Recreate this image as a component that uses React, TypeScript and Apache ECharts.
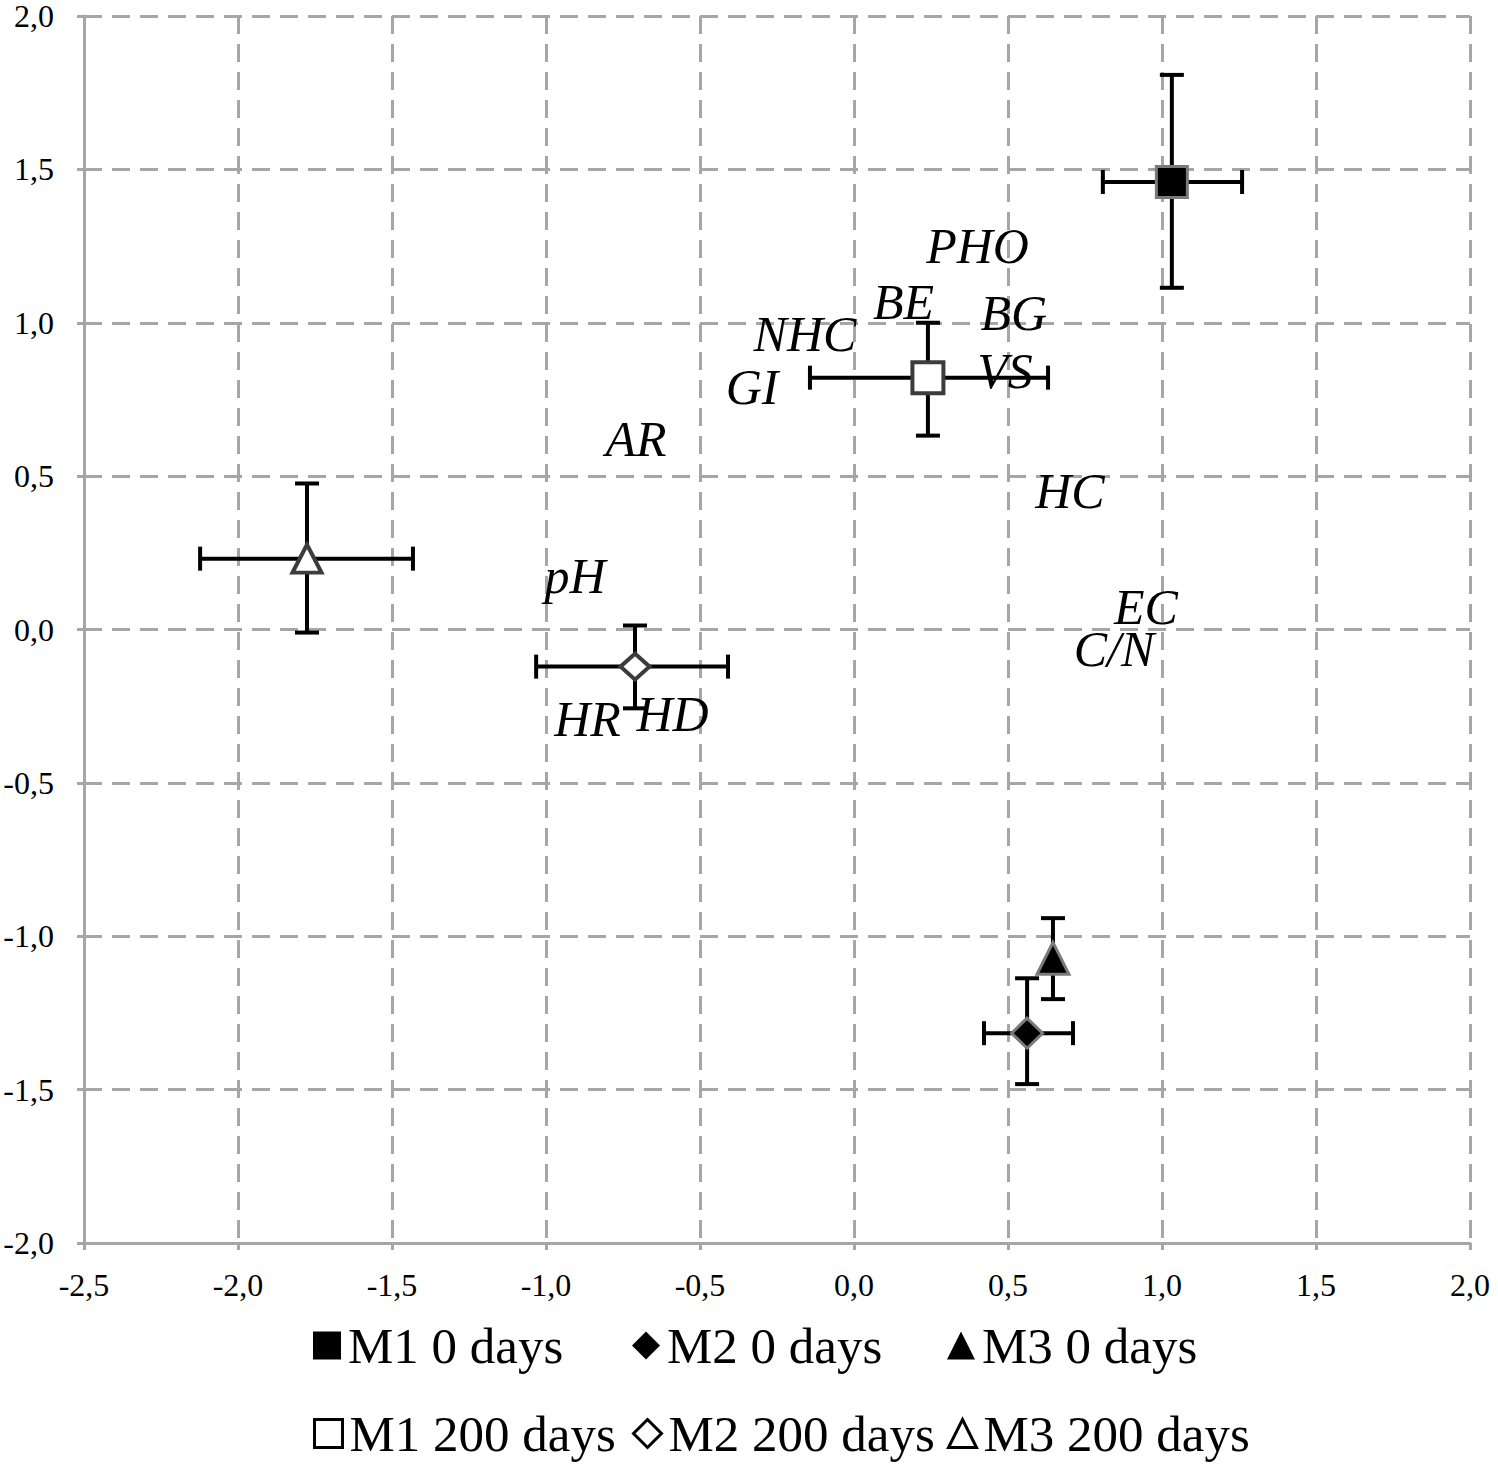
import React, { useEffect, useRef } from "react";
import * as echarts from "echarts";

// Treatment groups (scores with standard deviation)
const seriesNames = ["M1 0 days", "M2 0 days", "M3 0 days", "M1 200 days", "M2 200 days", "M3 200 days"];
const seriesSymbols = ["rect", "diamond", "triangle", "rect", "diamond", "triangle"];
const seriesFilled = [true, true, true, false, false, false];
const pointX = [1.032, 0.562, 0.646, 0.240, -0.711, -1.776];
const pointY = [1.459, -1.316, -1.072, 0.821, -0.121, 0.231];
const xErrLow = [0.808, 0.422, 0.646, -0.143, -1.032, -2.123];
const xErrHigh = [1.260, 0.711, 0.646, 0.630, -0.409, -1.432];
const yErrLow = [1.114, -1.482, -1.205, 0.632, -0.257, -0.010];
const yErrHigh = [1.808, -1.137, -0.941, 1.000, 0.013, 0.476];

// Variable labels (loadings)
const variableNames = ["PHO", "BE", "BG", "NHC", "GI", "VS", "AR", "HC", "pH", "EC", "C/N", "HR", "HD"];
const variableX = [0.401, 0.161, 0.519, -0.159, -0.331, 0.490, -0.708, 0.701, -0.906, 0.948, 0.844, -0.865, -0.589];
const variableY = [1.249, 1.068, 1.031, 0.963, 0.792, 0.844, 0.622, 0.453, 0.173, 0.073, -0.064, -0.293, -0.275];

// Axes
const xMin = -2.5;
const xMax = 2.0;
const yMin = -2.0;
const yMax = 2.0;
const tickStep = 0.5;

const FONT = "Liberation Serif, Times New Roman, serif";
const GRID_GRAY = "#a6a6a6";

const fmt = (v: number) => v.toFixed(1).replace(".", ",");

export default function App() {
  const ref = useRef<HTMLDivElement>(null);

  useEffect(() => {
    document.body.style.margin = "0";
    document.body.style.overflow = "hidden";
    if (!ref.current) return;
    const chart = echarts.init(ref.current, undefined, { renderer: "svg" });

    const errData = pointX.map((x, i) => [x, pointY[i], xErrLow[i], xErrHigh[i], yErrLow[i], yErrHigh[i]]);

    const scatterSeries = seriesNames.map((name, i) => {
      const filled = seriesFilled[i];
      const sym = seriesSymbols[i];
      let size: any = 30;
      if (sym === "rect") size = filled ? 31 : 31;
      if (sym === "diamond") size = filled ? [31, 30] : [29, 26];
      if (sym === "triangle") size = filled ? [32, 32] : [29, 28];
      return {
        type: "scatter",
        name,
        data: [[pointX[i], pointY[i]]],
        symbol: sym,
        symbolSize: size,
        z: 5,
        itemStyle: {
          color: filled ? "#000000" : "#ffffff",
          borderColor: filled ? "#7a7a7a" : "#3c3c3c",
          borderWidth: filled ? 3 : 4,
          opacity: 1,
        },
        emphasis: { disabled: true },
      };
    });

    const cols = [313, 632, 947];
    const rows = [1320, 1408];
    const legends = seriesNames.map((name, i) => ({
      left: cols[i % 3],
      top: rows[Math.floor(i / 3)],
      padding: 0,
      itemWidth: 28,
      itemHeight: 28,
      selectedMode: false,
      data: [
        {
          name,
          icon: seriesSymbols[i],
          itemStyle: {
            color: seriesFilled[i] ? "#000" : "#fff",
            borderColor: "#000",
            borderWidth: seriesFilled[i] ? 0 : 3,
          },
        },
      ],
      textStyle: {
        fontFamily: FONT,
        fontSize: 51,
        color: "#000",
        lineHeight: 28,
        padding: [0, 0, 0, 2],
      },
    }));

    chart.setOption({
      animation: false,
      backgroundColor: "#ffffff",
      legend: legends,
      grid: { left: 84, right: 28, top: 15, bottom: 231, containLabel: false },
      xAxis: {
        type: "value",
        min: xMin,
        max: xMax,
        interval: tickStep,
        axisLine: { show: true, onZero: false, lineStyle: { color: GRID_GRAY, width: 3 } },
        axisTick: { show: true, length: 7, lineStyle: { color: GRID_GRAY, width: 3 } },
        splitLine: { show: true, lineStyle: { color: GRID_GRAY, width: 3, type: [18, 10] } },
        axisLabel: { formatter: fmt, fontFamily: FONT, fontSize: 32, color: "#000", margin: 26 },
      },
      yAxis: {
        type: "value",
        min: yMin,
        max: yMax,
        interval: tickStep,
        axisLine: { show: true, onZero: false, lineStyle: { color: GRID_GRAY, width: 3 } },
        axisTick: { show: true, length: 7, lineStyle: { color: GRID_GRAY, width: 3 } },
        splitLine: { show: true, lineStyle: { color: GRID_GRAY, width: 3, type: [18, 10] } },
        axisLabel: { formatter: fmt, fontFamily: FONT, fontSize: 32, lineHeight: 28, color: "#000", margin: 30 },
      },
      series: [
        {
          type: "custom",
          name: "errorbars",
          data: errData,
          encode: { x: 0, y: 1 },
          z: 3,
          silent: true,
          renderItem: (params: any, api: any) => {
            const x = api.value(0);
            const y = api.value(1);
            const l = api.coord([api.value(2), y]);
            const r = api.coord([api.value(3), y]);
            const b = api.coord([x, api.value(4)]);
            const t = api.coord([x, api.value(5)]);
            const cap = 12;
            const style = { stroke: "#000", lineWidth: 4, fill: "none" };
            const children: any[] = [];
            if (r[0] - l[0] > 1) {
              children.push({ type: "line", shape: { x1: l[0], y1: l[1], x2: r[0], y2: r[1] }, style });
              children.push({ type: "line", shape: { x1: l[0], y1: l[1] - cap, x2: l[0], y2: l[1] + cap }, style });
              children.push({ type: "line", shape: { x1: r[0], y1: r[1] - cap, x2: r[0], y2: r[1] + cap }, style });
            }
            if (b[1] - t[1] > 1) {
              children.push({ type: "line", shape: { x1: t[0], y1: t[1], x2: b[0], y2: b[1] }, style });
              children.push({ type: "line", shape: { x1: t[0] - cap, y1: t[1], x2: t[0] + cap, y2: t[1] }, style });
              children.push({ type: "line", shape: { x1: b[0] - cap, y1: b[1], x2: b[0] + cap, y2: b[1] }, style });
            }
            return { type: "group", children };
          },
        },
        ...scatterSeries,
        {
          type: "scatter",
          name: "variables",
          symbolSize: 1,
          z: 6,
          silent: true,
          itemStyle: { color: "#000000", opacity: 0 },
          data: variableNames.map((n, i) => ({ name: n, value: [variableX[i], variableY[i]] })),
          label: {
            show: true,
            position: "inside",
            formatter: (p: any) => p.name,
            fontFamily: FONT,
            fontStyle: "italic",
            fontSize: 50,
            color: "#000000",
            opacity: 1,
            textBorderWidth: 0,
          },
        },
      ],
    });

    return () => chart.dispose();
  }, []);

  return <div ref={ref} style={{ width: 1498, height: 1474 }} />;
}
